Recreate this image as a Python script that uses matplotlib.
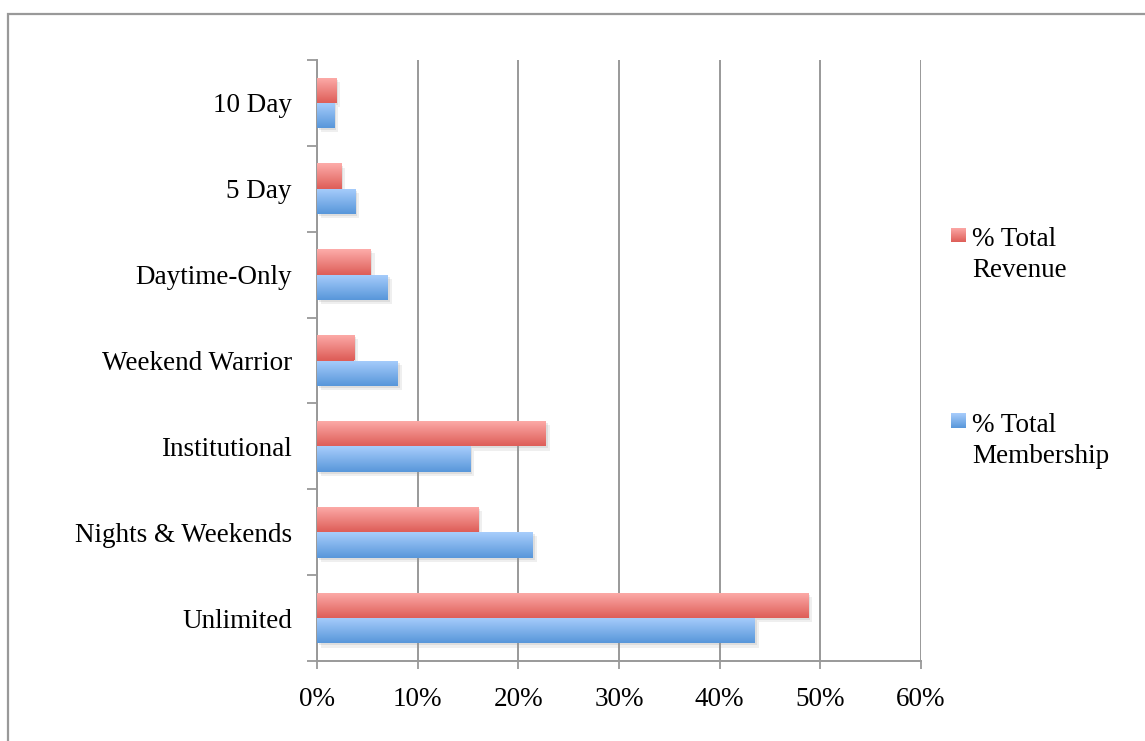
import numpy as np
import matplotlib
matplotlib.use("Agg")
import matplotlib.pyplot as plt
from matplotlib.colors import LinearSegmentedColormap
from matplotlib.patches import Rectangle
import matplotlib.patheffects as pe

categories = ["Unlimited", "Nights & Weekends", "Institutional", "Weekend Warrior",
              "Daytime-Only", "5 Day", "10 Day"]
membership = [0.435, 0.214, 0.152, 0.080, 0.070, 0.038, 0.017]
revenue = [0.488, 0.160, 0.227, 0.037, 0.053, 0.024, 0.019]
xticks = [0.0, 0.1, 0.2, 0.3, 0.4, 0.5, 0.6]
xtick_labels = ["0%", "10%", "20%", "30%", "40%", "50%", "60%"]
series_labels = ["% Total\nRevenue", "% Total\nMembership"]

plt.rcParams['font.family'] = ['Liberation Serif', 'DejaVu Serif']
FS = 19.5
GRAY = "#999999"

fig = plt.figure(figsize=(11.45, 7.41), dpi=100)
fig.patch.set_facecolor("white")
# outer chart border (left and top visible)
fig.add_artist(Rectangle((8 / 1145, -0.05), 1.2, 1 - 14 / 741 + 0.05,
                         transform=fig.transFigure, fill=False,
                         edgecolor=GRAY, linewidth=1.6))

ax = fig.add_axes([317 / 1145, 1 - 661 / 741, (921 - 317) / 1145, (661 - 60) / 741])

y = np.arange(len(categories))
h = 0.295
red_cmap = LinearSegmentedColormap.from_list("r", ["#FDACAA", "#DE5E58"])
blue_cmap = LinearSegmentedColormap.from_list("b", ["#A8CDFC", "#5897DA"])

shadow = [pe.SimplePatchShadow(offset=(3, -3), shadow_rgbFace="#999999", alpha=0.15),
          pe.SimplePatchShadow(offset=(1.5, -1.5), shadow_rgbFace="#999999", alpha=0.2),
          pe.Normal()]
bars_m = ax.barh(y - h / 2, membership, height=h, color="#5897DA", zorder=3,
                 path_effects=shadow)
bars_r = ax.barh(y + h / 2, revenue, height=h, color="#DE5E58", zorder=3,
                 path_effects=shadow)

grad = np.linspace(0, 1, 64).reshape(-1, 1)
for bars, cmap in ((bars_m, blue_cmap), (bars_r, red_cmap)):
    for b in bars:
        x0, y0 = b.get_x(), b.get_y()
        w, hh = b.get_width(), b.get_height()
        im = ax.imshow(grad, cmap=cmap, aspect="auto",
                       extent=(x0, x0 + w, y0, y0 + hh), origin="upper",
                       zorder=4, interpolation="bilinear")
        im.set_clip_path(b)

ax.set_xlim(0, 0.6)
ax.set_ylim(-0.5, len(categories) - 0.5)
ax.set_xticks(xticks)
ax.set_xticklabels(xtick_labels, fontsize=FS)
ax.set_yticks(y)
ax.set_yticklabels(categories, fontsize=FS)
ax.set_yticks(np.arange(len(categories) + 1) - 0.5, minor=True)
ax.tick_params(axis="y", which="major", length=0, pad=18)
ax.tick_params(axis="y", which="minor", length=7, width=1.3, color=GRAY, direction="out")
ax.tick_params(axis="x", which="major", length=6, width=1.3, color=GRAY, direction="out", pad=13)
ax.xaxis.grid(True, color=GRAY, linewidth=1.4, zorder=0)
ax.set_axisbelow(True)
for s in ("top", "right"):
    ax.spines[s].set_visible(False)
for s in ("left", "bottom"):
    ax.spines[s].set_color(GRAY)
    ax.spines[s].set_linewidth(1.4)

# legend
colors_leg = [("#FDACAA", "#DE5E58"), ("#A8CDFC", "#5897DA")]
leg_y = [235, 421]
for (ctop, cbot), lab, yy in zip(colors_leg, series_labels, leg_y):
    cm = LinearSegmentedColormap.from_list("l", [ctop, cbot])
    lax = fig.add_axes([951 / 1145, 1 - (yy + 7.5) / 741, 15 / 1145, 15 / 741])
    lax.imshow(grad, cmap=cm, aspect="auto", interpolation="bilinear")
    lax.axis("off")
    fig.text(972 / 1145, 1 - (yy - 8) / 741, lab, fontsize=FS, va="top", ha="left",
             linespacing=1.3)

fig.savefig("out.png", dpi=100)
